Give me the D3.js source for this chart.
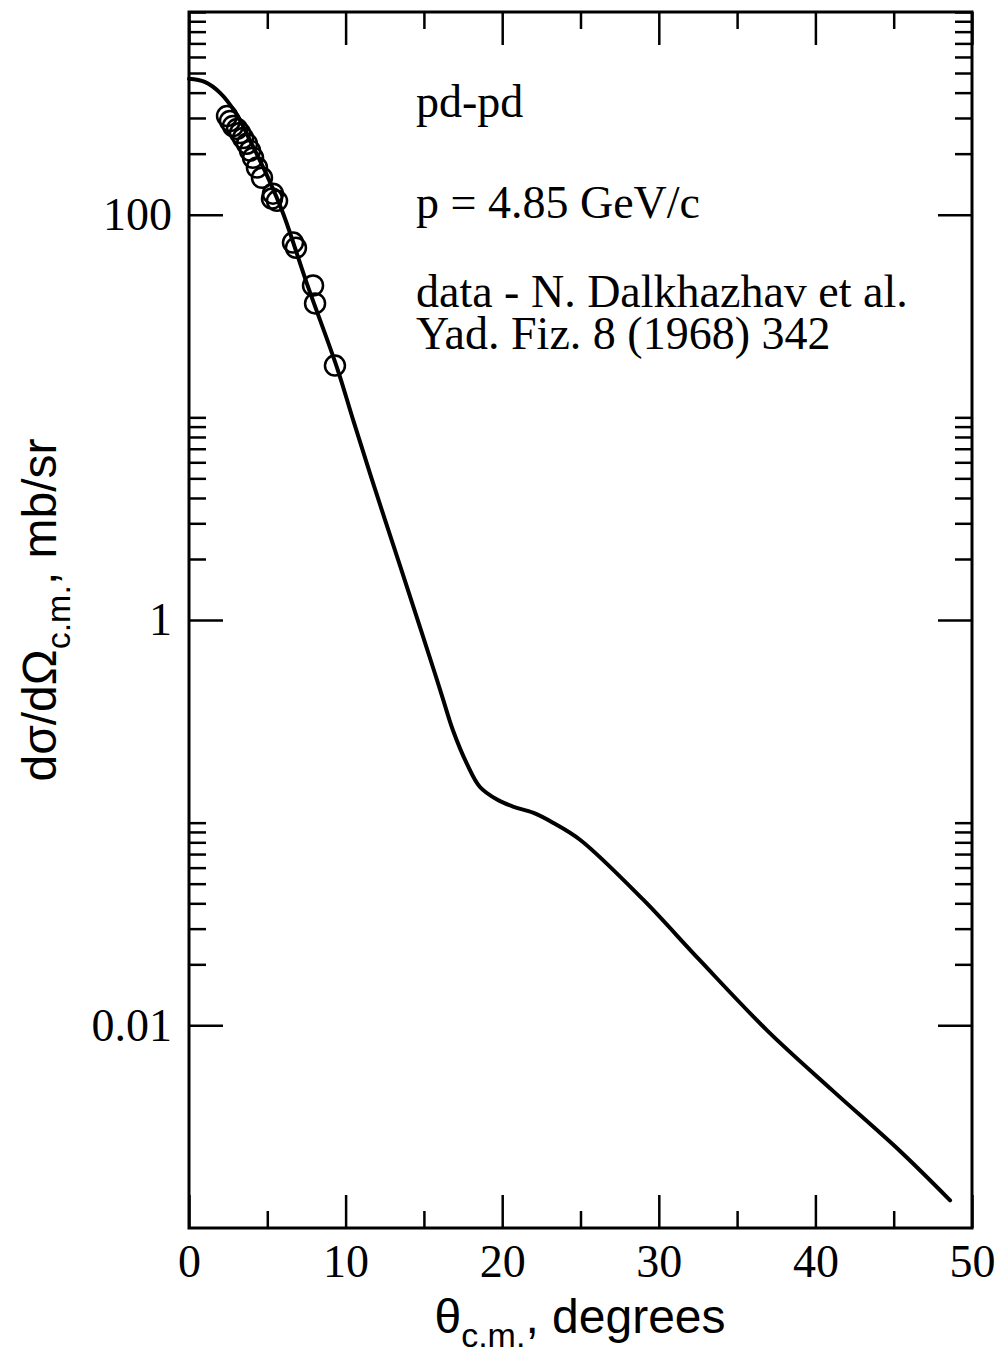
<!DOCTYPE html>
<html>
<head>
<meta charset="utf-8">
<script src="https://cdn.jsdelivr.net/npm/d3@7"></script>
<style>
  body { margin: 0; background: #fff; }
  svg { display: block; }
  .serif { font-family: "Liberation Serif", "Times New Roman", serif; }
  .sans { font-family: "Liberation Sans", Arial, sans-serif; }
</style>
</head>
<body>
<div id="chart"></div>
<script>
// theory curve (theta c.m. in degrees, dsigma/dOmega in mb/sr)
const curveTheta = [0, 1, 2, 3, 4, 5, 6, 7.53, 9.45, 10.47, 11.88, 13.47, 14.75, 15.71, 16.22,
  16.86, 17.75, 18.58, 19.67, 20.69, 21.97, 23.24, 24.97, 28.99, 32.63, 36.91, 41.12, 45.4, 48.6];
const curveSigma = [468, 452, 398, 316, 224, 155, 102, 45.7, 17.6, 9.77, 4.42, 1.86, 0.923, 0.543, 0.407,
  0.285, 0.195, 0.150, 0.130, 0.120, 0.112, 0.100, 0.0824, 0.0418, 0.0209, 0.00945, 0.00475, 0.00240, 0.00137];

// data - N. Dalkhazhav et al.
const dataTheta = [2.43, 2.62, 2.81, 3.07, 3.26, 3.45, 3.70, 3.90, 4.09, 4.34, 4.66, 5.36, 5.30, 5.62,
  6.64, 6.83, 7.92, 8.05, 9.32];
const dataSigma = [307, 290, 274, 265, 253, 239, 224, 207, 191, 171, 152, 127, 120, 117,
  72.8, 68.7, 44.7, 36.5, 18.0];

// axes
const xMajor = [0, 10, 20, 30, 40, 50];
const xMinor = [5, 15, 25, 35, 45];
const yMajor = [0.01, 1, 100];
const yMajorLabels = ["0.01", "1", "100"];
const yMinorFactors = [2, 3, 4, 5, 6, 7, 8, 9, 10];

const annotations = ["pd-pd", "p = 4.85 GeV/c", "data - N. Dalkhazhav et al.", "Yad. Fiz. 8 (1968) 342"];

const W = 1004, H = 1357;
const margin = { left: 189, top: 12, right: 32, bottom: 129 };
const iw = W - margin.left - margin.right;
const ih = H - margin.top - margin.bottom;

const svg = d3.select("#chart").append("svg").attr("width", W).attr("height", H);
const g = svg.append("g").attr("transform", `translate(${margin.left},${margin.top})`);

const x = d3.scaleLinear().domain([0, 50]).range([0, iw]);
const y = d3.scaleLog().domain([0.001, 1000]).range([ih, 0]);

const yMinor = [];
yMajor.forEach((m) => yMinorFactors.forEach((k) => yMinor.push(m * k)));

function styleAxis(sel) {
  sel.select(".domain").remove();
  sel.selectAll(".tick line").attr("stroke", "#000").attr("stroke-width", 2.5);
  sel.selectAll(".tick text").attr("class", "serif").attr("font-size", 46).attr("fill", "#000");
}

// bottom
g.append("g").attr("transform", `translate(0,${ih})`)
  .call(d3.axisBottom(x).tickValues(xMajor).tickSize(-33).tickPadding(16).tickFormat(d3.format("d")))
  .call(styleAxis);
g.append("g").attr("transform", `translate(0,${ih})`)
  .call(d3.axisBottom(x).tickValues(xMinor).tickSize(-17).tickFormat(""))
  .call(styleAxis);
// top
g.append("g").call(d3.axisTop(x).tickValues(xMajor).tickSize(-33).tickFormat("")).call(styleAxis);
g.append("g").call(d3.axisTop(x).tickValues(xMinor).tickSize(-17).tickFormat("")).call(styleAxis);
// left
g.append("g")
  .call(d3.axisLeft(y).tickValues(yMajor).tickSize(-34).tickPadding(17)
    .tickFormat((d, i) => yMajorLabels[i]))
  .call(styleAxis);
g.append("g").call(d3.axisLeft(y).tickValues(yMinor).tickSize(-17).tickFormat("")).call(styleAxis);
// right
g.append("g").attr("transform", `translate(${iw},0)`)
  .call(d3.axisRight(y).tickValues(yMajor).tickSize(-34).tickFormat(""))
  .call(styleAxis);
g.append("g").attr("transform", `translate(${iw},0)`)
  .call(d3.axisRight(y).tickValues(yMinor).tickSize(-17).tickFormat(""))
  .call(styleAxis);

// frame
g.append("rect").attr("width", iw).attr("height", ih)
  .attr("fill", "none").attr("stroke", "#000").attr("stroke-width", 3);

// curve
const line = d3.line()
  .x((d, i) => x(curveTheta[i]))
  .y((d) => y(d))
  .curve(d3.curveCatmullRom.alpha(0.5));
g.append("path").datum(curveSigma).attr("d", line)
  .attr("fill", "none").attr("stroke", "#000").attr("stroke-width", 4)
  .attr("stroke-linecap", "round");

// data points
g.append("g").selectAll("circle").data(dataSigma).join("circle")
  .attr("cx", (d, i) => x(dataTheta[i]))
  .attr("cy", (d) => y(d))
  .attr("r", 10)
  .attr("fill", "none").attr("stroke", "#000").attr("stroke-width", 2.5);

// annotations
const annY = [117, 218, 307, 349];
svg.append("g").selectAll("text").data(annotations).join("text")
  .attr("class", "serif").attr("font-size", 46).attr("x", 416)
  .attr("y", (d, i) => annY[i]).text((d) => d);

// axis titles
const xt = svg.append("text").attr("class", "sans").attr("font-size", 48)
  .attr("x", 580).attr("y", 1333).attr("text-anchor", "middle");
xt.append("tspan").text("θ");
xt.append("tspan").attr("font-size", 34).attr("dy", 14).text("c.m.");
xt.append("tspan").attr("dy", -14).text(", degrees");

const yt = svg.append("text").attr("class", "sans").attr("font-size", 48)
  .attr("transform", "translate(56,610) rotate(-90)").attr("text-anchor", "middle");
yt.append("tspan").text("dσ/dΩ");
yt.append("tspan").attr("font-size", 34).attr("dy", 14).text("c.m.");
yt.append("tspan").attr("dy", -14).text(", mb/sr");
</script>
</body>
</html>
